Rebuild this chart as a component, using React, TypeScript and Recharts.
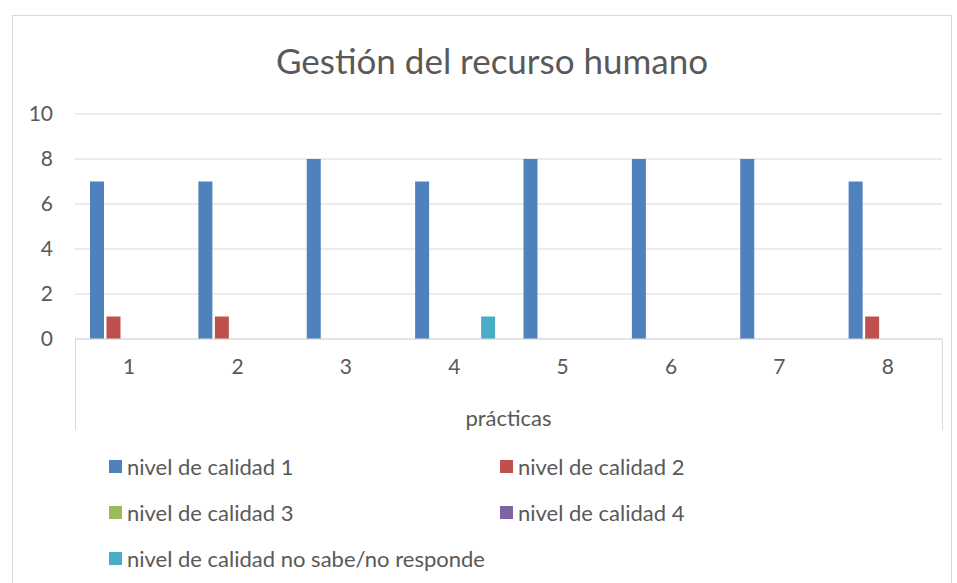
import { BarChart, Bar, XAxis, YAxis, CartesianGrid } from 'recharts';

const categories = ['1', '2', '3', '4', '5', '6', '7', '8'];
const nivel1 = [7, 7, 8, 7, 8, 8, 8, 7];
const nivel2 = [1, 1, 0, 0, 0, 0, 0, 1];
const nivel3 = [0, 0, 0, 0, 0, 0, 0, 0];
const nivel4 = [0, 0, 0, 0, 0, 0, 0, 0];
const noSabe = [0, 0, 0, 1, 0, 0, 0, 0];
const yTicks = [0, 2, 4, 6, 8, 10];

const series = [
  { key: 'n1', name: 'nivel de calidad 1', values: nivel1, color: '#4F81BD' },
  { key: 'n2', name: 'nivel de calidad 2', values: nivel2, color: '#C0504D' },
  { key: 'n3', name: 'nivel de calidad 3', values: nivel3, color: '#9BBB59' },
  { key: 'n4', name: 'nivel de calidad 4', values: nivel4, color: '#8064A2' },
  { key: 'ns', name: 'nivel de calidad no sabe/no responde', values: noSabe, color: '#4BACC6' },
];

const data = categories.map((c, i) => {
  const row: Record<string, string | number> = { cat: c };
  series.forEach((s) => { row[s.key] = s.values[i]; });
  return row;
});

const FONT = 'Lato, "Open Sans", sans-serif';
const TEXT = '#595959';
const GRID = '#D9D9D9';

export default function App() {
  return (
    <div style={{ position: 'absolute', left: 0, top: 0, width: 957, height: 583, background: '#fff', overflow: 'hidden', fontFamily: FONT }}>
      {/* chart frame */}
      <div style={{ position: 'absolute', left: 12, top: 15, width: 938, height: 600, border: `1px solid ${GRID}` }} />
      <div style={{ position: 'absolute', left: 0, width: 984, top: 38, textAlign: 'center', fontSize: 35, color: TEXT, lineHeight: '44px' }}>
        Gestión del recurso humano
      </div>
      {/* category axis side lines */}
      <div style={{ position: 'absolute', left: 75, top: 339, width: 1, height: 91, background: GRID }} />
      <div style={{ position: 'absolute', left: 942, top: 339, width: 1, height: 91, background: GRID }} />
      <div style={{ position: 'absolute', left: 0, top: 0 }}>
        <BarChart
          width={957}
          height={583}
          data={data}
          margin={{ top: 114, right: 15, left: 0, bottom: 153 }}
          barCategoryGap={15}
          barGap={2.5}
        >
          <CartesianGrid vertical={false} stroke={GRID} />
          <XAxis
            dataKey="cat"
            height={91}
            tickLine={false}
            tickSize={0}
            tickMargin={20}
            axisLine={{ stroke: GRID }}
            tick={{ fill: TEXT, fontSize: 21, fontFamily: FONT }}
            label={{ value: 'prácticas', position: 'insideBottom', offset: 4, fill: TEXT, fontSize: 22, fontFamily: FONT }}
          />
          <YAxis
            width={75}
            domain={[0, 10]}
            ticks={yTicks}
            axisLine={false}
            tickLine={false}
            tickSize={0}
            tickMargin={22}
            tick={{ fill: TEXT, fontSize: 21, fontFamily: FONT }}
          />
          {series.map((s) => (
            <Bar key={s.key} dataKey={s.key} name={s.name} fill={s.color} isAnimationActive={false} />
          ))}
        </BarChart>
      </div>
      {/* legend */}
      <div style={{ position: 'absolute', left: 109, top: 451, width: 800, display: 'grid', gridTemplateColumns: '391px 391px', rowGap: 16 }}>
        {series.map((s) => (
          <div key={s.key} style={{ display: 'flex', alignItems: 'center', height: 30, fontSize: 22, color: TEXT }}>
            <span style={{ display: 'inline-block', width: 13, height: 13, background: s.color, marginRight: 5 }} />
            {s.name}
          </div>
        ))}
      </div>
    </div>
  );
}
